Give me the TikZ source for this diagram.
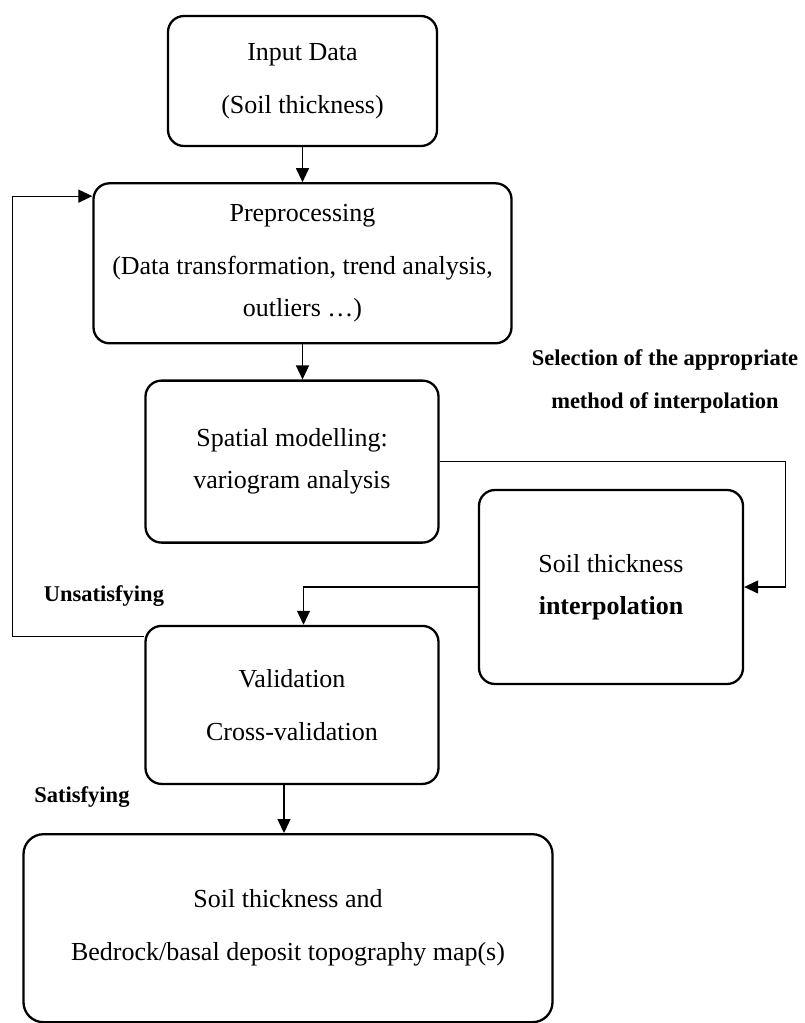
\documentclass[tikz,border=0pt]{standalone}
\usepackage{fontspec}
\setmainfont{Liberation Serif}
\usetikzlibrary{arrows.meta,positioning}

\begin{document}
\begin{tikzpicture}[
  x=1pt, y=-1pt,
  box/.style={draw, line width=2.3pt, rounded corners=16pt, align=center, inner sep=0pt, font=\fontsize{26}{42}\selectfont},
  lbl/.style={font=\bfseries\fontsize{22.5}{43}\selectfont, align=center, inner sep=0pt},
  arr/.style={-{Triangle[length=14pt, width=13pt]}, line width=1.2pt},
]
  \useasboundingbox (0,0) rectangle (804,1023);

  % Main column
  \node[box, minimum width=269pt, minimum height=130pt] at (302.5,81) (input) {Input Data\\[11pt](Soil thickness)};
  \node[box, below=35pt of input, minimum width=418pt, minimum height=160pt] (prep) {Preprocessing\\[11pt](Data transformation, trend analysis,\\outliers \dots)};
  \node[box, below=35pt of prep, xshift=-10.5pt, minimum width=293pt, minimum height=162pt] (spatial) {Spatial modelling:\\variogram analysis};
  \node[box, below=81pt of spatial, minimum width=293pt, minimum height=158pt] (valid) {Validation\\[11pt]Cross-validation};
  \node[box, below=48pt of valid, xshift=-4pt, minimum width=529pt, minimum height=188pt, rounded corners=20pt] (result) {Soil thickness and\\[11pt]Bedrock/basal deposit topography map(s)};

  % Side box
  \node[box, minimum width=264pt, minimum height=194pt] at (611,587) (interp) {Soil thickness\\\textbf{interpolation}};

  % Labels
  \node[lbl] at (665,381) (select) {Selection of the appropriate\\method of interpolation};
  \node[lbl] at (104,596) (unsat) {Unsatisfying};
  \node[lbl] at (82,797) (sat) {Satisfying};

  % Edges
  \draw[arr] (input.south) -- (input.south |- prep.north);
  \draw[arr] (prep.south) -- (prep.south |- spatial.north);
  \draw[arr] (spatial.east) -- ++(346pt,0) |- (interp.east);
  \draw[arr] (interp.west) -| ([xshift=11.5pt]valid.north);
  \draw[arr] ([xshift=-8pt]valid.south) -- ([xshift=-8pt]valid.south |- result.north);

  % Feedback loop
  \draw[arr] ([yshift=-12pt]valid.north west) -- ++(-132pt,0) |- ([yshift=-14pt]prep.north west);
\end{tikzpicture}
\end{document}
